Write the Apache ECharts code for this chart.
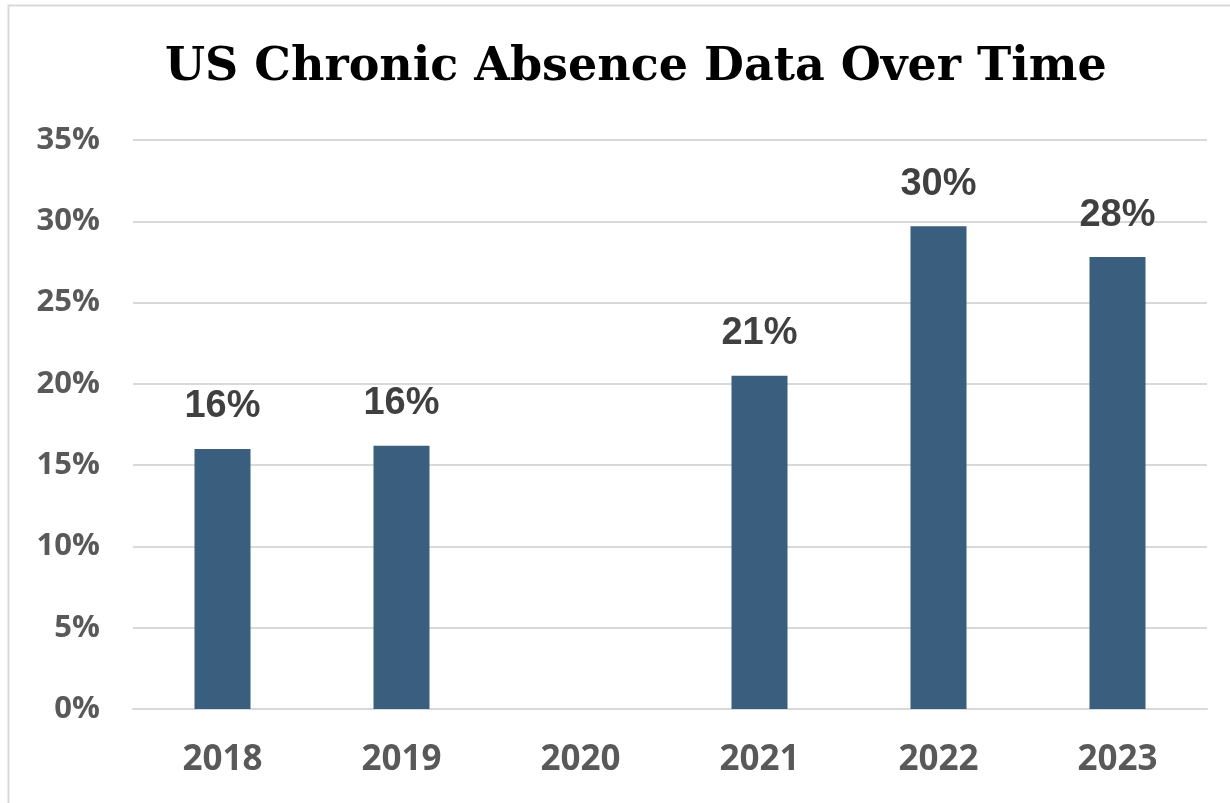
<!DOCTYPE html>
<html>
<head>
<meta charset="utf-8">
<script src="https://cdn.jsdelivr.net/npm/echarts@6/dist/echarts.min.js"></script>
<style>
  html, body { margin: 0; padding: 0; background: #fff; }
  #main { width: 1230px; height: 803px; }
</style>
</head>
<body>
<div id="main"></div>
<script>
// chronic absence rate per school year (2020 has no data)
let years = ['2018', '2019', '2020', '2021', '2022', '2023'];
let absence = [16.0, 16.2, null, 20.5, 29.7, 27.8];
let yTicks = { min: 0, max: 35, interval: 5 };

let chartDom = document.getElementById('main');
let myChart = echarts.init(chartDom);
let option;

option = {
    backgroundColor: '#ffffff',
    animation: false,
    title: {
        text: 'US Chronic Absence Data Over Time',
        left: 160,
        top: 40,
        textStyle: {
            fontFamily: 'DejaVu Serif',
            fontWeight: 'bold',
            fontSize: 46,
            color: '#000000'
        }
    },
    // light frame around the chart area (only top and left show in the crop)
    graphic: [
        {
            type: 'rect',
            shape: { x: 8.5, y: 5.5, width: 1400, height: 1000 },
            style: { fill: 'none', stroke: '#d9d9d9', lineWidth: 2 },
            silent: true
        }
    ],
    grid: {
        left: 133,
        right: 23,
        top: 140,
        bottom: 94
    },
    xAxis: {
        type: 'category',
        data: years,
        axisLine: { show: true, lineStyle: { color: '#d9d9d9', width: 2 } },
        axisTick: { show: false },
        axisLabel: {
            margin: 34,
            fontFamily: 'Open Sans',
            fontWeight: 'bold',
            fontSize: 35,
            color: '#595959'
        }
    },
    yAxis: {
        type: 'value',
        min: yTicks.min,
        max: yTicks.max,
        interval: yTicks.interval,
        axisLine: { show: false },
        axisTick: { show: false },
        splitLine: { lineStyle: { color: '#d9d9d9', width: 2 } },
        axisLabel: {
            margin: 33,
            formatter: '{value}%',
            fontFamily: 'Open Sans',
            fontWeight: 'bold',
            fontSize: 31,
            color: '#595959'
        }
    },
    series: [
        {
            name: 'Chronic absence',
            type: 'bar',
            data: absence,
            barWidth: 56,
            itemStyle: { color: '#3a5e7e' },
            label: {
                show: true,
                position: 'top',
                distance: 23,
                formatter: function (p) {
                    return Math.round(p.value) + '%';
                },
                fontFamily: 'Liberation Sans',
                fontWeight: 'bold',
                fontSize: 38,
                color: '#404040'
            }
        }
    ]
};

option && myChart.setOption(option);
</script>
</body>
</html>
